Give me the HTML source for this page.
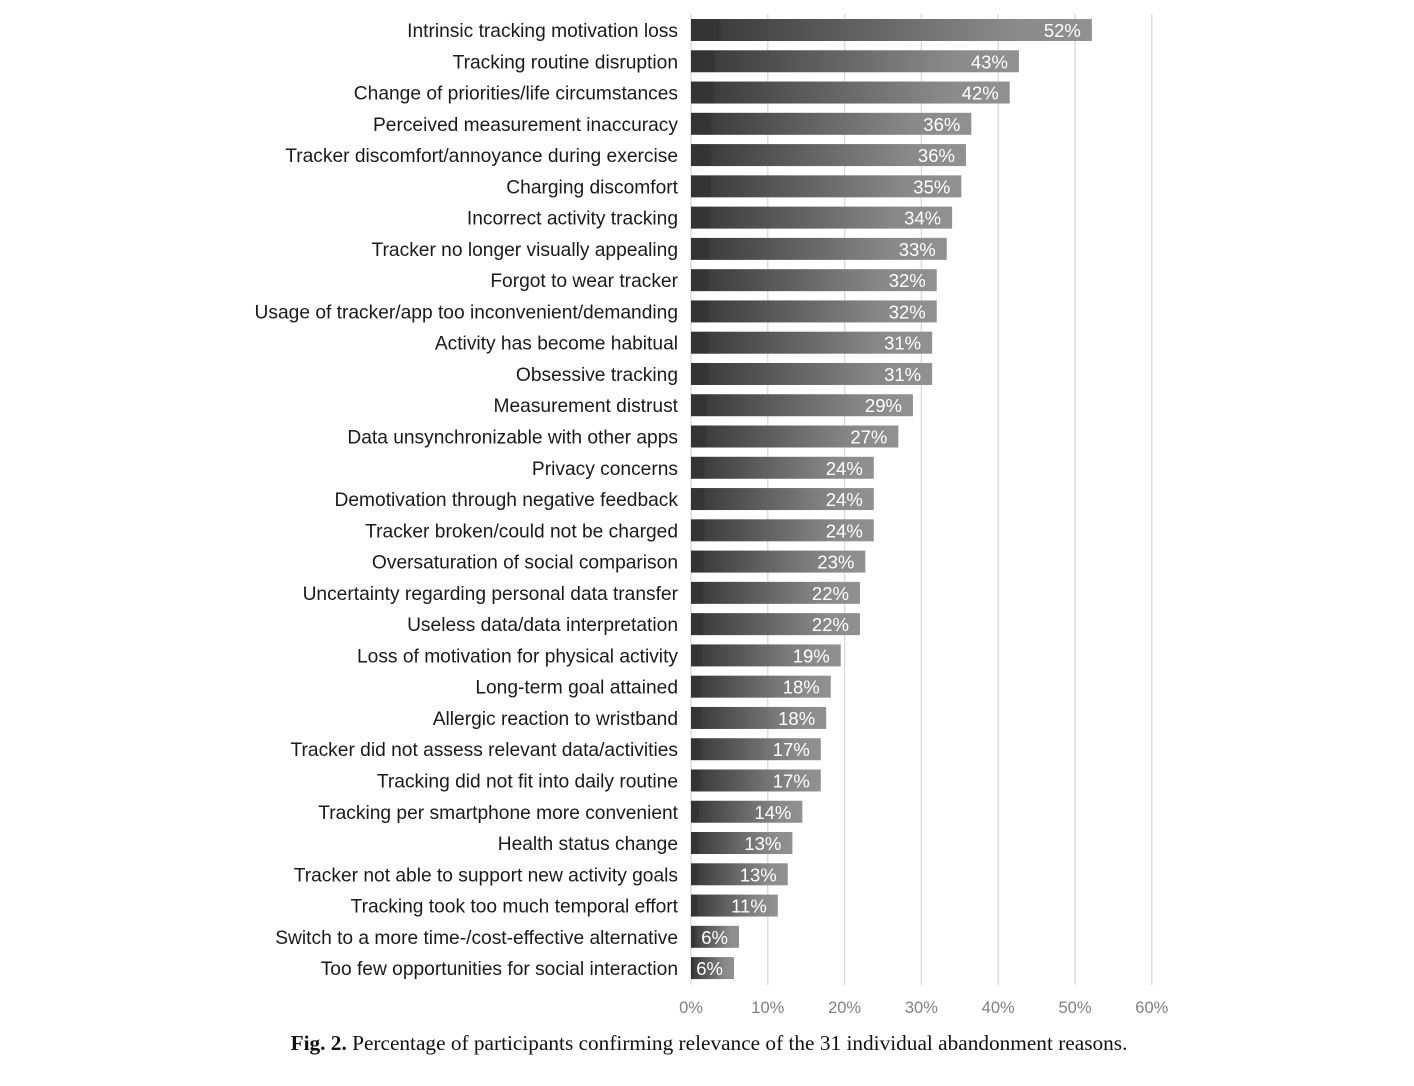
<!DOCTYPE html>
<html><head><meta charset="utf-8"><style>
html,body{margin:0;padding:0;background:#fff;}
svg{display:block;}
</style></head><body>
<svg id="chart" width="1414" height="1086" viewBox="0 0 1414 1086" xmlns="http://www.w3.org/2000/svg">
<defs>
<linearGradient id="barGrad" x1="0" y1="0" x2="1" y2="0">
<stop offset="0" stop-color="#333"/>
<stop offset="0.07" stop-color="#353535"/>
<stop offset="0.075" stop-color="#3d3d3d"/>
<stop offset="0.8" stop-color="#8a8a8a"/>
<stop offset="1" stop-color="#919191"/>
</linearGradient>
</defs>
<g id="grid"></g>
<g id="bars"></g>
<g id="labels"></g>
<g id="xticks"></g>
<text x="709" y="1050" text-anchor="middle" font-family="Liberation Serif, serif" font-size="21.3" fill="#111"><tspan font-weight="bold">Fig. 2.</tspan> Percentage of participants confirming relevance of the 31 individual abandonment reasons.</text>
</svg>
<script>
const categories = ["Intrinsic tracking motivation loss","Tracking routine disruption","Change of priorities/life circumstances","Perceived measurement inaccuracy","Tracker discomfort/annoyance during exercise","Charging discomfort","Incorrect activity tracking","Tracker no longer visually appealing","Forgot to wear tracker","Usage of tracker/app too inconvenient/demanding","Activity has become habitual","Obsessive tracking","Measurement distrust","Data unsynchronizable with other apps","Privacy concerns","Demotivation through negative feedback","Tracker broken/could not be charged","Oversaturation of social comparison","Uncertainty regarding personal data transfer","Useless data/data interpretation","Loss of motivation for physical activity","Long-term goal attained","Allergic reaction to wristband","Tracker did not assess relevant data/activities","Tracking did not fit into daily routine","Tracking per smartphone more convenient","Health status change","Tracker not able to support new activity goals","Tracking took too much temporal effort","Switch to a more time-/cost-effective alternative","Too few opportunities for social interaction"];
const values = [52.2,42.7,41.5,36.5,35.8,35.2,34.0,33.3,32.0,32.0,31.4,31.4,28.9,27.0,23.8,23.8,23.8,22.7,22.0,22.0,19.5,18.2,17.6,16.9,16.9,14.5,13.2,12.6,11.3,6.25,5.6];
const valueLabels = ["52%","43%","42%","36%","36%","35%","34%","33%","32%","32%","31%","31%","29%","27%","24%","24%","24%","23%","22%","22%","19%","18%","18%","17%","17%","14%","13%","13%","11%","6%","6%"];
const ticks = [0,10,20,30,40,50,60];
const tickLabels = ["0%","10%","20%","30%","40%","50%","60%"];

const NS = "http://www.w3.org/2000/svg";
const x0 = 691, pxPer = 7.68;
const xs = v => x0 + v * pxPer;
const yc = i => 30 + i * 31.27;
const barH = 22;
function mk(tag, attrs, parent){const e=document.createElementNS(NS,tag);for(const k in attrs)e.setAttribute(k,attrs[k]);parent.appendChild(e);return e;}
const grid=document.getElementById('grid'), bars=document.getElementById('bars'), labels=document.getElementById('labels'), xt=document.getElementById('xticks');
ticks.forEach((t,i)=>{
  const l=mk('line',{x1:xs(t),x2:xs(t),y1:14,y2:985,stroke:'#d9d9d9','stroke-width':1.3},grid);
  
  
  const tx=mk('text',{x:xs(t),y:1013,'text-anchor':'middle','font-family':'Liberation Sans, sans-serif','font-size':16.5,fill:'#808080'},xt);
  tx.textContent=tickLabels[i];
  
  
});
categories.forEach((c,i)=>{
  const y=yc(i);
  const r=mk('rect',{x:x0,y:y-barH/2,width:xs(values[i])-x0,height:barH,fill:'url(#barGrad)'},bars);
  
  
  const v=mk('text',{x:xs(values[i])-11,y:y+7,'text-anchor':'end','font-family':'Liberation Sans, sans-serif','font-size':18.5,fill:'#fff'},bars);
  v.textContent=valueLabels[i];
  
  
  const t=mk('text',{x:678,y:y+7,'text-anchor':'end','font-family':'Liberation Sans, sans-serif','font-size':19.2,fill:'#1a1a1a'},labels);
  t.textContent=c;
  
  
});
</script>
</body></html>
